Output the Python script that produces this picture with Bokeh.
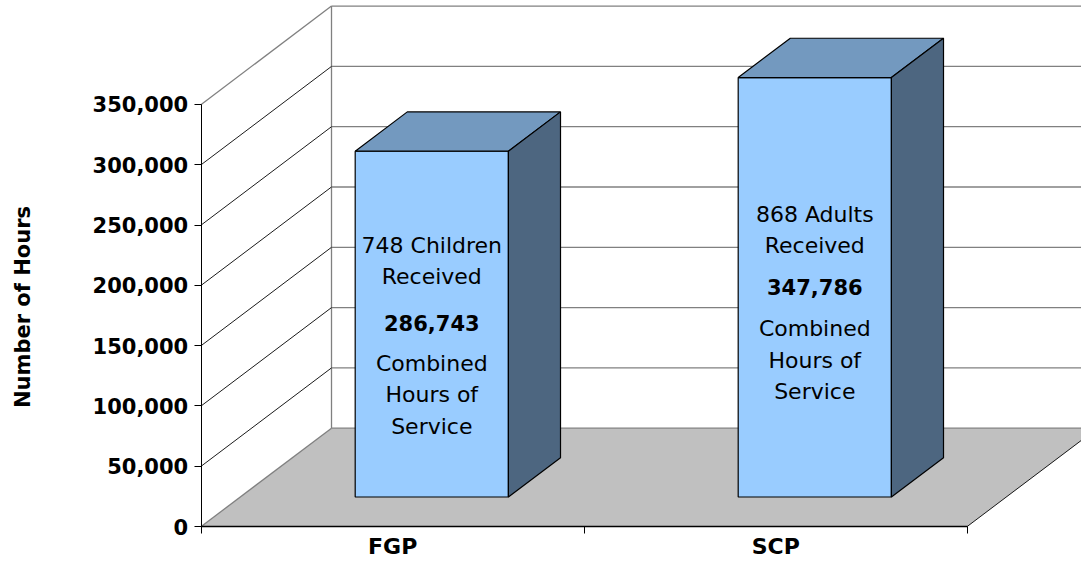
import math
from bokeh.plotting import figure
from bokeh.models import (Range1d, FixedTicker, NumeralTickFormatter,
                          ColumnDataSource, LinearAxis)
from bokeh.core.properties import value
from bokeh.embed import file_html
from bokeh.resources import INLINE

# ---------------- data ----------------
categories = ["FGP", "SCP"]
hours = [286743, 347786]
recipients = ["748 Children", "868 Adults"]
y_ticks = [0, 50000, 100000, 150000, 200000, 250000, 300000, 350000]
y_title = "Number of Hours"

# ---------------- layout constants (pixels) ----------------
W, H = 1081, 561
ORIGIN_X, ORIGIN_Y = 200.7, 526.0     # front-plane origin on the canvas
PX_PER_CAT = 383.0                    # px per category on the front plane
PX_PER_UNIT = 60.3 / 50000            # px per hour
DX = 130.3 / PX_PER_CAT               # depth offset (x units)
DY = 98.3 / PX_PER_UNIT               # depth offset (value units)
BAR_W = 0.4
F0, F1 = 0.3, 0.7                     # bar depth position (fraction of depth)
Y_MAX = y_ticks[-1]
n = len(categories)
# text line baselines, px below the centre of each bar's front face
TEXT_OFFSETS = [[-70.9, -39.3, 7.1, 47.1, 78.7, 110.4],
                [-65.1, -33.5, 8.2, 48.9, 80.9, 112.2]]
TEXT_SHIFT = 8.0                      # renderer baseline correction (px)

FRONT = "#99CCFF"
TOP = "#7399BF"
SIDE = "#4D6680"
FLOOR = "#C0C0C0"
GRAY = "#808080"
FONT = "DejaVu Sans"

p = figure(width=W, height=H, output_backend="svg", toolbar_location=None,
           x_range=Range1d(-ORIGIN_X / PX_PER_CAT, (W - ORIGIN_X) / PX_PER_CAT),
           y_range=Range1d((ORIGIN_Y - H) / PX_PER_UNIT, ORIGIN_Y / PX_PER_UNIT),
           min_border_left=0, min_border_right=0,
           min_border_top=0, min_border_bottom=0,
           x_axis_type=None, y_axis_type=None)
p.title.text = ""
p.outline_line_color = None
p.background_fill_color = "white"
p.border_fill_color = "white"

# ---------------- walls ----------------
p.patch([0, n, n + DX, DX], [0, 0, DY, DY], fill_color=FLOOR, line_color=None)

# back wall gridlines
p.segment(x0=[DX] * len(y_ticks), y0=[t + DY for t in y_ticks],
          x1=[n + DX + 1] * len(y_ticks), y1=[t + DY for t in y_ticks],
          line_color=GRAY, line_width=1.3)
# back wall left edge
p.segment(x0=[DX], y0=[DY], x1=[DX], y1=[Y_MAX + DY], line_color=GRAY, line_width=1.3)
# side wall gridlines
inner = y_ticks[1:-1]
p.segment(x0=[0] * len(inner), y0=inner, x1=[DX] * len(inner),
          y1=[t + DY for t in inner], line_color="black", line_width=0.9)
edge = [y_ticks[0], y_ticks[-1]]
p.segment(x0=[0, 0], y0=edge, x1=[DX, DX], y1=[t + DY for t in edge],
          line_color=GRAY, line_width=1.3)
# floor right edge
p.segment(x0=[n], y0=[0], x1=[n + DX], y1=[DY], line_color="black", line_width=0.9)

# ---------------- bars ----------------
ddx = (F1 - F0) * DX
ddy = (F1 - F0) * DY
xl = [i + 0.5 - BAR_W / 2 + F0 * DX for i in range(n)]
xr = [x + BAR_W for x in xl]
y0 = [F0 * DY] * n
yt = [F0 * DY + v for v in hours]

front = ColumnDataSource(dict(left=xl, right=xr, bottom=y0, top=yt))
p.quad(left="left", right="right", bottom="bottom", top="top", source=front,
       fill_color=FRONT, line_color="black", line_width=1.2)
top_src = ColumnDataSource(dict(
    xs=[[a, b, b + ddx, a + ddx] for a, b in zip(xl, xr)],
    ys=[[t, t, t + ddy, t + ddy] for t in yt]))
p.patches("xs", "ys", source=top_src, fill_color=TOP, line_color="black", line_width=1.2)
side_src = ColumnDataSource(dict(
    xs=[[b, b + ddx, b + ddx, b] for b in xr],
    ys=[[b0, b0 + ddy, t + ddy, t] for b0, t in zip(y0, yt)]))
p.patches("xs", "ys", source=side_src, fill_color=SIDE, line_color="black", line_width=1.2)

# ---------------- bar texts ----------------
for i in range(n):
    cx = (xl[i] + xr[i]) / 2
    cy = y0[i] + hours[i] / 2
    lines = [recipients[i], "Received", f"{hours[i]:,}", "Combined", "Hours of", "Service"]
    for j, (txt, off) in enumerate(zip(lines, TEXT_OFFSETS[i])):
        bold = (j == 2)
        p.text(x=[cx], y=[cy - (off - TEXT_SHIFT) / PX_PER_UNIT], text=[txt],
               text_font=value(FONT), text_font_size="21px" if bold else "22px",
               text_font_style="bold" if bold else "normal",
               text_align="center", text_baseline="alphabetic", text_color="black")

# ---------------- axes ----------------
yaxis = LinearAxis(ticker=FixedTicker(ticks=y_ticks),
                   formatter=NumeralTickFormatter(format="0,0"),
                   bounds=(0, Y_MAX), fixed_location=0,
                   major_tick_out=7, major_tick_in=0, minor_tick_out=0, minor_tick_in=0,
                   major_label_standoff=6,
                   major_label_text_font=FONT, major_label_text_font_size="21px",
                   major_label_text_font_style="bold", major_label_text_color="black",
                   axis_line_color="black", major_tick_line_color="black")
p.add_layout(yaxis, "left")

xaxis = LinearAxis(ticker=FixedTicker(ticks=[i + 0.5 for i in range(n)],
                                      minor_ticks=list(range(n + 1))),
                   major_label_overrides={i + 0.5: c for i, c in enumerate(categories)},
                   bounds=(0, n), fixed_location=0,
                   major_tick_out=0, major_tick_in=0, minor_tick_out=7, minor_tick_in=0,
                   major_label_standoff=0,
                   major_label_text_font=FONT, major_label_text_font_size="22px",
                   major_label_text_font_style="bold", major_label_text_color="black",
                   axis_line_color="black", axis_line_width=1.5,
                   minor_tick_line_color="black")
p.add_layout(xaxis, "below")

# y-axis title
p.text(x=[(22.3 - ORIGIN_X) / PX_PER_CAT], y=[(ORIGIN_Y - 306.5) / PX_PER_UNIT],
       text=[y_title], angle=math.pi / 2, text_align="center", text_baseline="middle",
       text_font=value(FONT), text_font_size="21px", text_font_style="bold",
       text_color="black")

open("out.html", "w").write(file_html(p, INLINE))
